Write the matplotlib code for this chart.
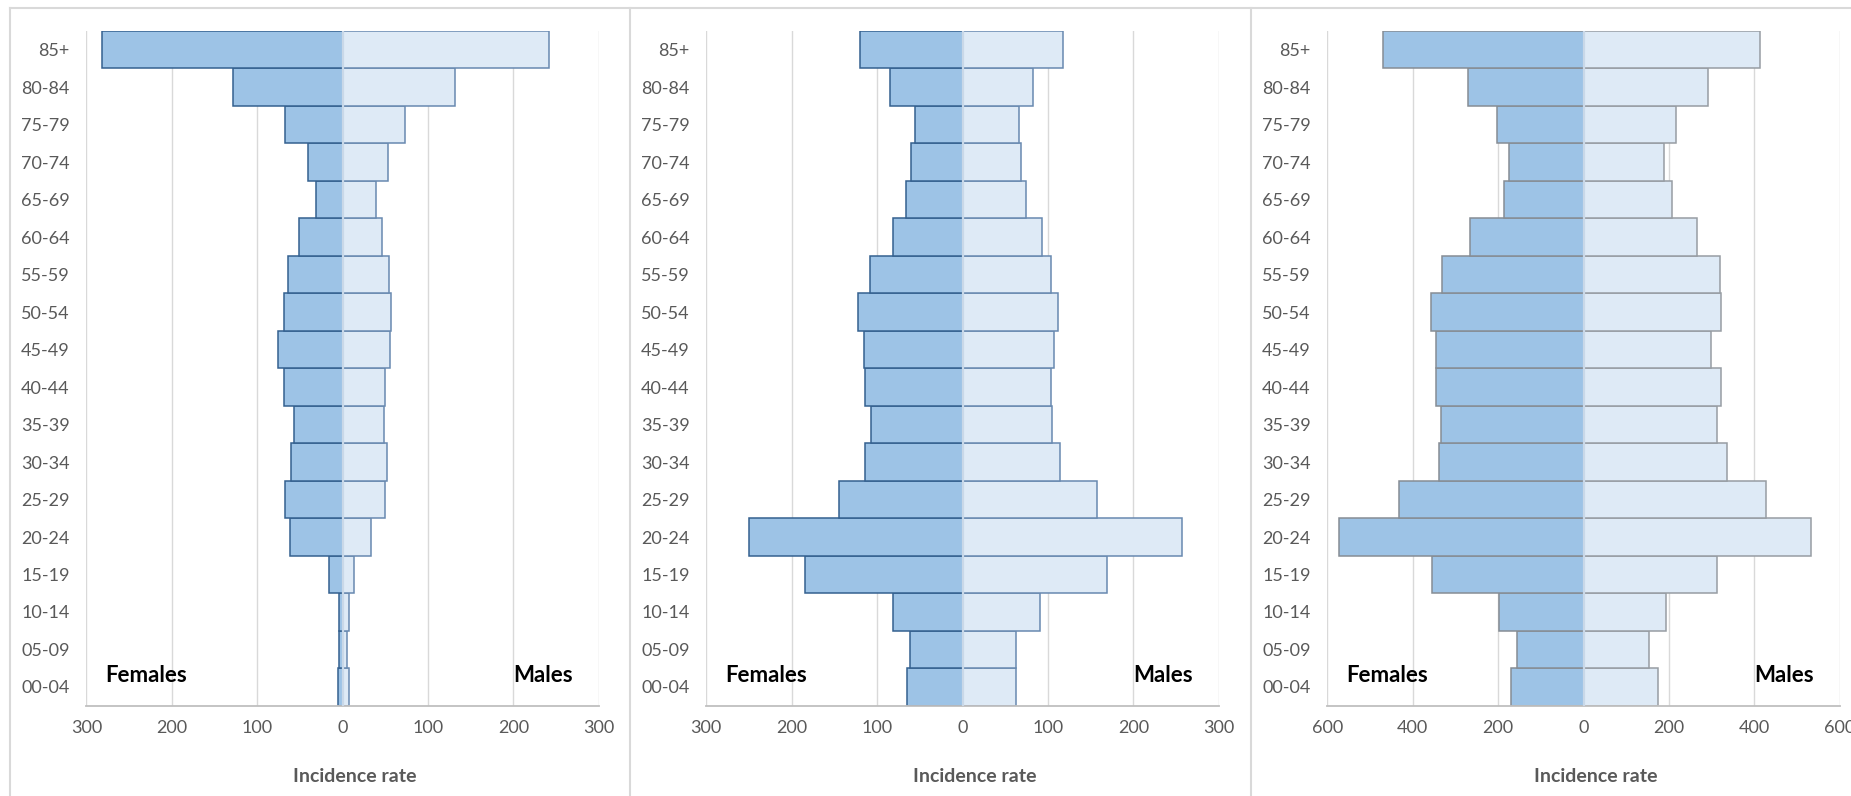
import matplotlib.pyplot as plt
import numpy as np
from matplotlib.lines import Line2D

plt.rcParams['font.family'] = ['Lato', 'DejaVu Sans']

ages = ['00-04', '05-09', '10-14', '15-19', '20-24', '25-29', '30-34', '35-39', '40-44',
        '45-49', '50-54', '55-59', '60-64', '65-69', '70-74', '75-79', '80-84', '85+']

# panel 1
fem1 = [6, 4, 4, 16, 62, 68, 60, 57, 69, 76, 69, 64, 51, 31, 41, 67, 128, 282]
mal1 = [7, 5, 7, 13, 33, 49, 52, 48, 49, 55, 57, 54, 46, 39, 53, 73, 132, 242]
# panel 2
fem2 = [65, 62, 82, 184, 250, 145, 114, 107, 114, 115, 122, 108, 82, 66, 60, 56, 85, 120]
mal2 = [63, 62, 91, 169, 257, 157, 114, 105, 104, 107, 112, 103, 93, 74, 68, 66, 82, 118]
# panel 3
fem3 = [170, 157, 199, 355, 574, 432, 338, 334, 345, 345, 357, 331, 266, 187, 175, 204, 271, 470]
mal3 = [173, 154, 192, 313, 532, 426, 335, 313, 322, 299, 322, 320, 265, 207, 189, 217, 291, 414]

limits = [300, 300, 600]
steps = [100, 100, 200]

female_col = '#9DC3E6'
male_col = '#DEEAF6'
edges = [('#34608F', '#6889B0'), ('#34608F', '#6889B0'), ('#868D94', '#979DA3')]

W, H = 1851, 796
fig = plt.figure(figsize=(W / 100, H / 100), dpi=100)

lefts = [86.4, 706.3, 1327.4]
aw = 512.5
top = 31.0
bottom = 705.7

y = np.arange(len(ages))
panels = [(fem1, mal1), (fem2, mal2), (fem3, mal3)]

for k in range(3):
    fem, mal = panels[k]
    ax = fig.add_axes([lefts[k] / W, (H - bottom) / H, aw / W, (bottom - top) / H])
    lim = limits[k]
    ax.barh(y, -np.array(fem), height=1.0, color=female_col,
            edgecolor=edges[k][0], linewidth=1.1, zorder=2)
    ax.barh(y, mal, height=1.0, color=male_col,
            edgecolor=edges[k][1], linewidth=1.1, zorder=2)
    ax.axvline(0, color='#C9D8E8', lw=1.6, zorder=3)
    ax.set_xlim(-lim, lim)
    ax.set_ylim(-0.5, len(ages) - 0.5)
    ticks = np.arange(-lim, lim + 1, steps[k])
    ax.set_xticks(ticks)
    ax.set_xticklabels([str(abs(t)) for t in ticks])
    ax.set_yticks(y)
    ax.set_yticklabels(ages)
    ax.tick_params(axis='both', length=0, labelsize=13, colors='#595959')
    ax.tick_params(axis='x', pad=10)
    ax.tick_params(axis='y', pad=12)
    ax.grid(axis='x', color='#D9D9D9', lw=1.0, zorder=0)
    ax.set_axisbelow(True)
    for s in ['top', 'left', 'right']:
        ax.spines[s].set_visible(False)
    ax.spines['bottom'].set_color('#BFBFBF')
    ax.spines['bottom'].set_linewidth(1.3)

    ax.text(0.037, 0.045, 'Females', transform=ax.transAxes, fontsize=16,
            fontweight='bold', color='black', ha='left', va='center')
    ax.text(0.949, 0.045, 'Males', transform=ax.transAxes, fontsize=16,
            fontweight='bold', color='black', ha='right', va='center')
    ax.text(0.5 + 12 / aw, -(776.7 - bottom) / (bottom - top), 'Incidence rate',
            transform=ax.transAxes, fontsize=14, fontweight='bold', color='#595959',
            ha='center', va='center')

# panel frames
ftop = 1 - 7.5 / H
for xp in [9.6, 629.7, 1251.0]:
    fig.add_artist(Line2D([xp / W, xp / W], [0, ftop], color='#D9D9D9', lw=1.5))
fig.add_artist(Line2D([9.6 / W, 1], [ftop, ftop], color='#D9D9D9', lw=1.5))

fig.savefig('out.png', dpi=100)
